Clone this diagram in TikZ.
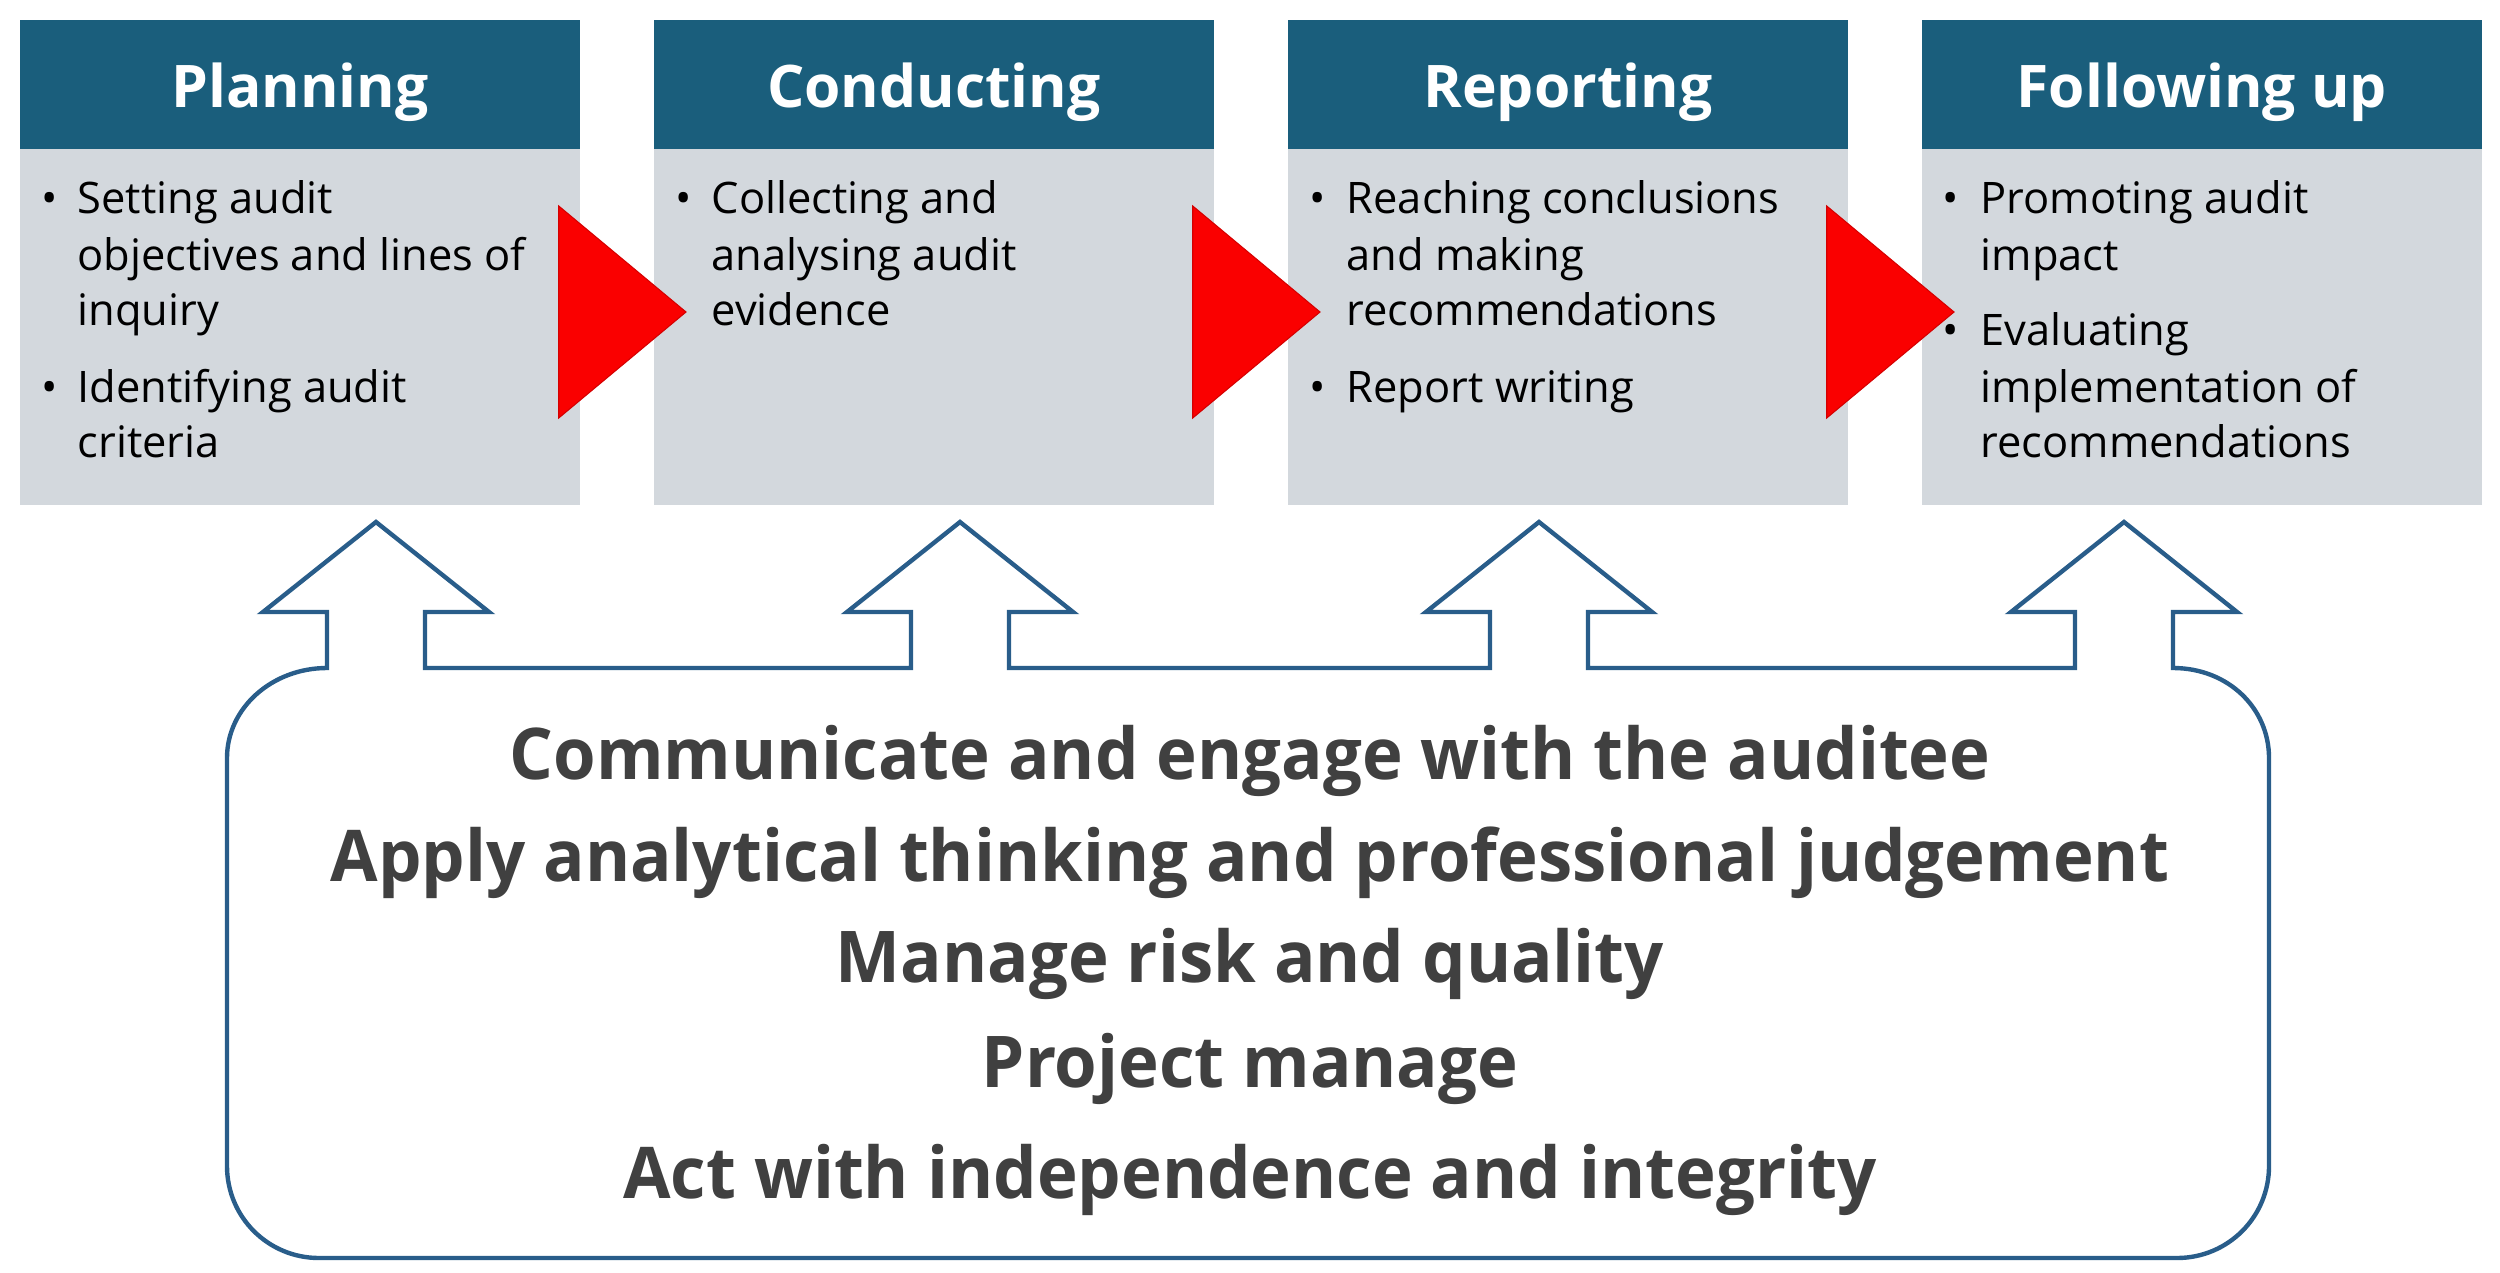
\documentclass[tikz,border=0pt]{standalone}
\usepackage{fontspec}
\setmainfont{Open Sans}
\newfontfamily\bigfont{Open Sans}[FakeStretch=0.965]
\usetikzlibrary{calc}
\definecolor{hdrblue}{RGB}{26,94,124}
\definecolor{bodygray}{RGB}{211,216,221}
\definecolor{outline}{RGB}{41,93,138}
\definecolor{darktext}{RGB}{64,64,64}
\definecolor{arrowred}{RGB}{250,0,0}
\tikzset{
  hdr/.style={fill=hdrblue, minimum width=5.6cm, minimum height=1.29cm, inner sep=0pt,
    anchor=north west, text=white, font=\bfseries\fontsize{16.7}{20}\selectfont,
    text height=13.4pt, text depth=0pt},
  bodybox/.style={fill=bodygray, minimum width=5.6cm, minimum height=3.56cm, inner sep=0pt, anchor=north west},
  btxt/.style={inner sep=0pt, anchor=base west, text=black, font=\fontsize{12.35}{15.9}\selectfont},
  bdot/.style={inner sep=0pt, anchor=base, text=black, font=\fontsize{12.35}{15.9}\selectfont},
  bigtxt/.style={inner sep=0pt, anchor=base, text=darktext, font=\bigfont\bfseries\fontsize{20.3}{24}\selectfont},
  tri/.style={fill=arrowred, draw=arrowred!85!black, line width=0.3pt},
  frame/.style={draw=outline, line width=1.25pt, line join=miter}
}
\begin{document}
\begin{tikzpicture}[x=0.01cm,y=-0.01cm]
\useasboundingbox (0,0) rectangle (2500,1273);
% phase boxes
\node[hdr] (h1) at (19,19) {Planning};
\node[bodybox] (b1) at (19,148) {};
\node[hdr] (h2) at (653,19) {Conducting};
\node[bodybox] (b2) at (653,148) {};
\node[hdr] (h3) at (1287,19) {Reporting};
\node[bodybox] (b3) at (1287,148) {};
\node[hdr] (h4) at (1921,19) {Following up};
\node[bodybox] (b4) at (1921,148) {};
% box 1 text
\node[bdot] (d11) at (50,213) {•};
\node[btxt] (t11) at (77,213) {Setting audit};
\node[btxt] (t12) at (77,270) {objectives and lines of};
\node[btxt] (t13) at (77,325) {inquiry};
\node[bdot] (d12) at (50,402) {•};
\node[btxt] (t14) at (77,402) {Identifying audit};
\node[btxt] (t15) at (77,457) {criteria};
% box 2 text
\node[bdot] (d21) at (684,213) {•};
\node[btxt] (t21) at (711,213) {Collecting and};
\node[btxt] (t22) at (711,270) {analysing audit};
\node[btxt] (t23) at (711,325) {evidence};
% box 3 text
\node[bdot] (d31) at (1318,213) {•};
\node[btxt] (t31) at (1346,213) {Reaching conclusions};
\node[btxt] (t32) at (1346,270) {and making};
\node[btxt] (t33) at (1346,325) {recommendations};
\node[bdot] (d32) at (1318,402) {•};
\node[btxt] (t34) at (1346,402) {Report writing};
% box 4 text
\node[bdot] (d41) at (1951,213) {•};
\node[btxt] (t41) at (1980,213) {Promoting audit};
\node[btxt] (t42) at (1980,270) {impact};
\node[bdot] (d42) at (1951,345) {•};
\node[btxt] (t43) at (1980,345) {Evaluating};
\node[btxt] (t44) at (1980,402) {implementation of};
\node[btxt] (t45) at (1980,457) {recommendations};
% red triangles between phases
\foreach \a/\b in {b1/b2,b2/b3,b3/b4}{
  \filldraw[tri] ($(\a.north east)+(-22,58)$) -- ($(\a.north east)+(-22,270)$)
     -- ($(\b.north west)+(33,164)$) -- cycle;
}
% outline shape with four upward arrows
\draw[frame] (227,1166) -- (227,758) .. controls (227,708) and (272,668) .. (327,668)
  -- (327,612) -- (263,612) -- (376,522) -- (489,612) -- (425,612) -- (425,668)
  -- (911,668) -- (911,612) -- (847,612) -- (960,522) -- (1073,612) -- (1009,612) -- (1009,668)
  -- (1490,668) -- (1490,612) -- (1426,612) -- (1539,522) -- (1652,612) -- (1588,612) -- (1588,668)
  -- (2075,668) -- (2075,612) -- (2011,612) -- (2124,522) -- (2237,612) -- (2173,612) -- (2173,668)
  .. controls (2228,668) and (2269,708) .. (2269,758)
  -- (2269,1166) .. controls (2269,1217) and (2228,1258) .. (2177,1258)
  -- (319,1258) .. controls (268,1258) and (227,1217) .. (227,1166) -- cycle;
% competencies
\node[bigtxt] (c1) at (1250,779) {Communicate and engage with the auditee};
\node[bigtxt] (c2) at (1250,881) {Apply analytical thinking and professional judgement};
\node[bigtxt] (c3) at (1250,982) {Manage risk and quality};
\node[bigtxt] (c4) at (1250,1087) {Project manage};
\node[bigtxt] (c5) at (1250,1198) {Act with independence and integrity};
\end{tikzpicture}
\end{document}
